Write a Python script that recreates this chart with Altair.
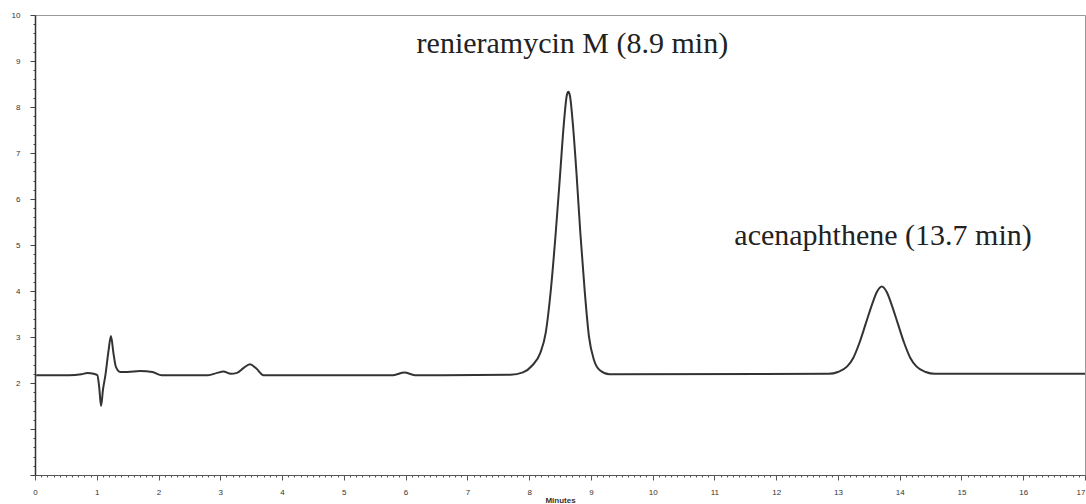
import altair as alt
import pandas as pd

# Chromatogram trace (time in min, detector signal in axis units)
time_min = [0.02, 0.55, 0.75, 0.85, 0.95, 1.01, 1.04, 1.07, 1.10, 1.14, 1.19, 1.23, 1.27, 1.31,
            1.38, 1.50, 1.70, 1.90, 2.05, 2.80, 2.95, 3.05, 3.17, 3.27, 3.38, 3.48, 3.58, 3.70,
            5.80, 5.98, 6.15,
            7.70, 7.90, 8.05, 8.18, 8.27, 8.35, 8.43, 8.50, 8.56, 8.61, 8.635, 8.66, 8.71, 8.77,
            8.83, 8.90, 8.97, 9.05, 9.15, 9.30,
            12.85, 13.00, 13.15, 13.25, 13.35, 13.45, 13.55, 13.63, 13.71, 13.79, 13.87, 13.97,
            14.07, 14.17, 14.27, 14.42, 14.57, 17.00]
signal = [2.17, 2.17, 2.19, 2.22, 2.20, 2.17, 1.90, 1.50, 1.85, 2.17, 2.70, 3.02, 2.65, 2.35,
          2.24, 2.24, 2.26, 2.24, 2.17, 2.17, 2.22, 2.25, 2.20, 2.22, 2.33, 2.41, 2.32, 2.17,
          2.17, 2.23, 2.17,
          2.18, 2.23, 2.38, 2.65, 3.10, 4.00, 5.25, 6.50, 7.60, 8.25, 8.33, 8.25, 7.60, 6.50,
          5.25, 4.00, 3.00, 2.50, 2.27, 2.19,
          2.20, 2.24, 2.36, 2.55, 2.88, 3.29, 3.70, 3.98, 4.10, 3.98, 3.70, 3.29,
          2.88, 2.55, 2.36, 2.24, 2.20, 2.20]

# Peak annotations
label_text = ["renieramycin M (8.9 min)", "acenaphthene (13.7 min)"]
label_time = [8.70, 13.73]
label_signal = [9.17, 5.0]

# Axis ticks
x_major = list(range(0, 18))
y_major = list(range(0, 11))
x_minor_step = 0.1
y_minor_step = 0.2

x_tick_values = [round(i * x_minor_step, 1) for i in range(0, 171)]
y_tick_values = [round(i * y_minor_step, 1) for i in range(0, 51)]

trace = pd.DataFrame({"t": time_min, "s": signal})
labels = pd.DataFrame({"t": label_time, "s": label_signal, "txt": label_text})

x_scale = alt.Scale(domain=[0, 17], nice=False, zero=False)
y_scale = alt.Scale(domain=[0, 10], nice=False, zero=False)

is_major = "abs(datum.value - round(datum.value)) < 0.01"

x_axis = alt.Axis(
    values=x_tick_values,
    tickCount=len(x_tick_values) + 10,
    labelExpr=f"{is_major} ? format(datum.value, 'd') : ''",
    labelAlign={"condition": {"test": "datum.value > 16.9", "value": "right"}, "value": "center"},
    tickSize={"condition": {"test": is_major, "value": 5}, "value": 2},
    tickColor="#555",
    domainColor="#555",
    domainWidth=1.2,
    labelFontSize=8,
    labelColor="#333",
    labelPadding=8,
    labelFlush=False,
    labelOverlap=False,
    grid=False,
    title="Minutes",
    titleFontSize=8,
    titleFontWeight="bold",
    titleColor="#333",
    titlePadding=0,
)
y_axis = alt.Axis(
    values=y_tick_values,
    tickCount=len(y_tick_values) + 10,
    labelExpr=f"{is_major} && datum.value >= 2 ? format(datum.value, 'd') : ''",
    tickSize={"condition": {"test": is_major, "value": 5}, "value": 2},
    tickColor="#444",
    domainColor="#333",
    domainWidth=1.5,
    labelFontSize=8,
    labelColor="#333",
    labelPadding=10,
    labelFlush=False,
    labelOverlap=False,
    grid=False,
    title=None,
)

line = alt.Chart(trace).mark_line(interpolate="monotone", color="#333333", strokeWidth=2).encode(
    x=alt.X("t:Q", scale=x_scale, axis=x_axis),
    y=alt.Y("s:Q", scale=y_scale, axis=y_axis),
)

text = alt.Chart(labels).mark_text(
    font="Liberation Serif", fontSize=30, color="#222", align="center", baseline="alphabetic"
).encode(
    x=alt.X("t:Q", scale=x_scale),
    y=alt.Y("s:Q", scale=y_scale),
    text="txt:N",
)

chart = (
    alt.layer(line, text)
    .properties(
        width=1050,
        height=460,
        padding={"left": 35, "top": 15, "right": 1, "bottom": 29},
        autosize=alt.AutoSizeParams(type="none"),
        background="white",
    )
    .configure_view(stroke="#999", strokeWidth=1)
)

chart.save("out.html", embed_options={"renderer": "svg", "actions": False})
